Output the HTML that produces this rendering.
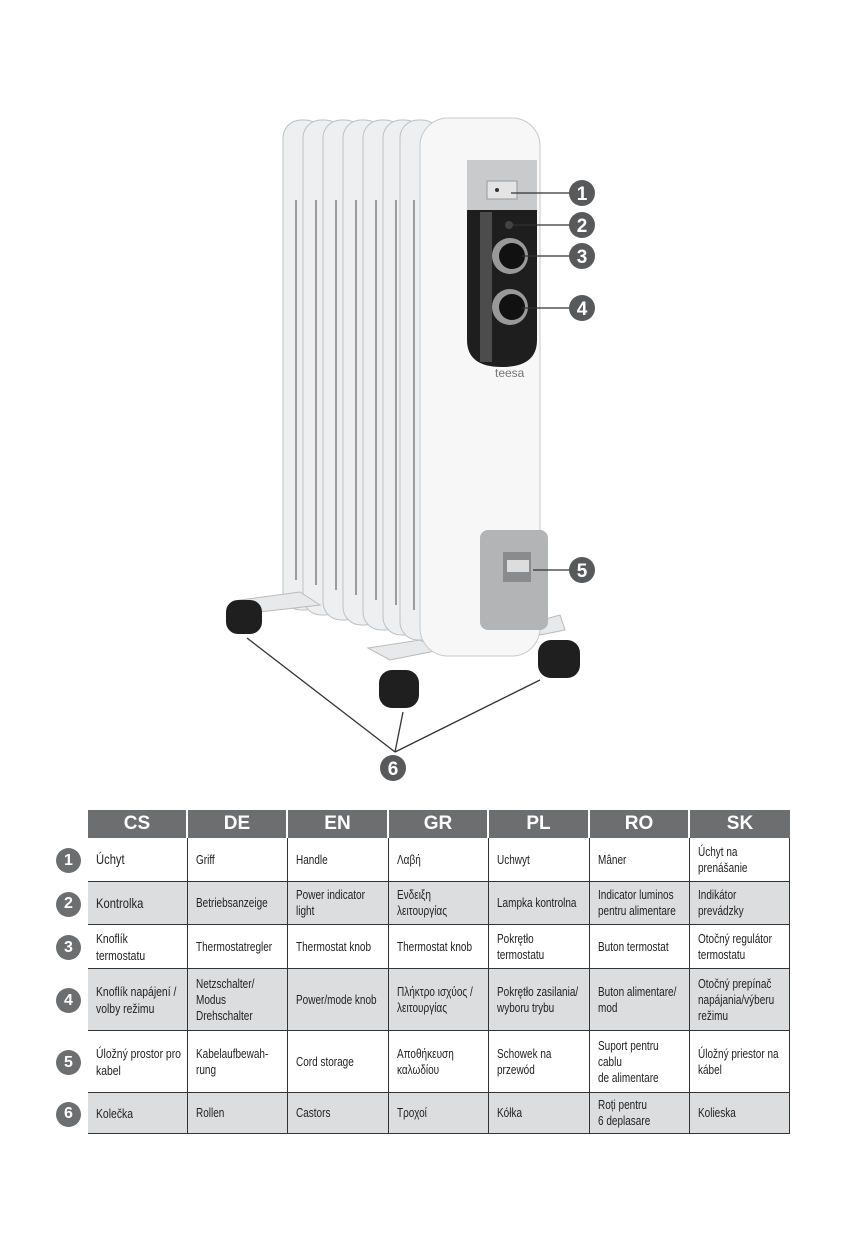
<!DOCTYPE html>
<html><head><meta charset="utf-8"><style>
body{margin:0;width:856px;height:1240px;background:#fff;position:relative;overflow:hidden;font-family:"Liberation Sans",sans-serif;}
.c{position:absolute;border-right:1.5px solid #333;border-bottom:1.5px solid #333;box-sizing:border-box;display:flex;align-items:center;padding-left:8px;font-size:12px;line-height:16px;color:#222;}
.c > div{transform:scaleX(0.8);transform-origin:left center;flex:none;}
.h{position:absolute;background:#6d6e70;color:#fff;font-weight:bold;font-size:19px;display:flex;align-items:center;justify-content:center;box-sizing:border-box;border-right:2px solid #fff;}
.n{position:absolute;width:25px;height:25px;border-radius:50%;background:#6d6e70;color:#fff;font-weight:bold;font-size:16px;display:flex;align-items:center;justify-content:center;}
</style></head><body>
<svg width="856" height="800" style="position:absolute;left:0;top:0">
<g fill="#eeeff0" stroke="#bfc0c2" stroke-width="1">
<rect x="283" y="120" width="40" height="490" rx="18"/>
<rect x="303" y="120" width="40" height="495" rx="18"/>
<rect x="323" y="120" width="40" height="500" rx="18"/>
<rect x="343" y="120" width="40" height="505" rx="18"/>
<rect x="363" y="120" width="40" height="510" rx="18"/>
<rect x="383" y="120" width="40" height="515" rx="18"/>
<rect x="400" y="120" width="40" height="520" rx="18"/>
</g>
<g stroke="#9a9b9d" stroke-width="2">
<line x1="296" y1="200" x2="296" y2="580"/><line x1="316" y1="200" x2="316" y2="585"/><line x1="336" y1="200" x2="336" y2="590"/><line x1="356" y1="200" x2="356" y2="595"/><line x1="376" y1="200" x2="376" y2="600"/><line x1="396" y1="200" x2="396" y2="605"/><line x1="414" y1="200" x2="414" y2="610"/>
</g>
<path d="M240 600 L300 592 L320 605 L260 612 Z" fill="#e8e9ea" stroke="#bbb"/>
<path d="M368 648 L420 640 L440 650 L390 660 Z" fill="#e8e9ea" stroke="#bbb"/>
<path d="M535 622 L560 615 L565 630 L540 635 Z" fill="#e8e9ea" stroke="#bbb"/>
<rect x="420" y="118" width="120" height="538" rx="28" fill="#f7f7f7" stroke="#c8c9cb"/>
<rect x="467" y="160" width="70" height="50" fill="#c9cacc"/>
<rect x="487" y="181" width="30" height="18" fill="#e4e4e4" stroke="#999"/>
<circle cx="497" cy="190" r="2" fill="#333"/>
<path d="M467 210 H537 V340 Q537 367 502 367 Q467 367 467 340 Z" fill="#1e1e1e"/>
<rect x="480" y="212" width="12" height="150" fill="#6a6a6a" opacity=".6"/>
<circle cx="510" cy="256" r="18" fill="#999"/><circle cx="512" cy="256" r="13" fill="#111"/>
<circle cx="510" cy="307" r="18" fill="#999"/><circle cx="512" cy="307" r="13" fill="#111"/>
<circle cx="509" cy="225" r="4" fill="#444"/>
<text x="495" y="377" font-size="12" fill="#777" font-family="Liberation Sans">teesa</text>
<rect x="480" y="530" width="68" height="100" rx="8" fill="#b3b4b6"/>
<rect x="503" y="552" width="28" height="30" fill="#8a8b8d"/>
<rect x="507" y="560" width="22" height="12" fill="#ddd"/>
<rect x="226" y="600" width="36" height="34" rx="12" fill="#1f1f1f"/>
<rect x="379" y="670" width="40" height="38" rx="13" fill="#1f1f1f"/>
<rect x="538" y="640" width="42" height="38" rx="13" fill="#1f1f1f"/>
<g stroke="#333" stroke-width="1.3" fill="none">
<line x1="511" y1="193" x2="570" y2="193"/>
<line x1="513" y1="225" x2="570" y2="225"/>
<line x1="522" y1="256" x2="570" y2="256"/>
<line x1="522" y1="308" x2="570" y2="308"/>
<line x1="533" y1="570" x2="570" y2="570"/>
<line x1="247" y1="638" x2="395" y2="752"/>
<line x1="403" y1="712" x2="395" y2="752"/>
<line x1="540" y1="680" x2="395" y2="752"/>
</g>
<g fill="#58595b"><circle cx="582" cy="193" r="13"/><circle cx="582" cy="225" r="13"/><circle cx="582" cy="256" r="13"/><circle cx="582" cy="308" r="13"/><circle cx="582" cy="570" r="13"/><circle cx="393" cy="768" r="13"/></g>
<g fill="#fff" font-family="Liberation Sans" font-weight="bold" font-size="19" text-anchor="middle">
<text x="582" y="200">1</text><text x="582" y="232">2</text><text x="582" y="263">3</text><text x="582" y="315">4</text><text x="582" y="577">5</text><text x="393" y="775">6</text></g>
</svg>

<div class="h" style="left:88px;top:810px;width:100px;height:28px">CS</div>
<div class="h" style="left:188px;top:810px;width:100px;height:28px">DE</div>
<div class="h" style="left:288px;top:810px;width:101px;height:28px">EN</div>
<div class="h" style="left:389px;top:810px;width:100px;height:28px">GR</div>
<div class="h" style="left:489px;top:810px;width:101px;height:28px">PL</div>
<div class="h" style="left:590px;top:810px;width:100px;height:28px">RO</div>
<div class="h" style="left:690px;top:810px;width:100px;height:28px;border-right:none">SK</div>
<div style="position:absolute;left:88px;top:838px;width:1.5px;height:295px;background:#333"></div>

<div id="t"></div>
<script>
const cols=[88,188,288,389,489,590,690,790];
const rows=[838,882,925,969,1031,1093,1134];
const d=[
["Úchyt","Griff","Handle","Λαβή","Uchwyt","Mâner","Úchyt na<br>prenášanie"],
["Kontrolka","Betriebsanzeige","Power indicator<br>light","Ενδειξη<br>λειτουργίας","Lampka kontrolna","Indicator luminos<br>pentru alimentare","Indikátor<br>prevádzky"],
["Knoflík<br>termostatu","Thermostatregler","Thermostat knob","Thermostat knob","Pokrętło<br>termostatu","Buton termostat","Otočný regulátor<br>termostatu"],
["Knoflík napájení /<br>volby režimu","Netzschalter/<br>Modus<br>Drehschalter","Power/mode knob","Πλήκτρο ισχύος /<br>λειτουργίας","Pokrętło zasilania/<br>wyboru trybu","Buton alimentare/<br>mod","Otočný prepínač<br>napájania/výberu<br>režimu"],
["Úložný prostor pro<br>kabel","Kabelaufbewah-<br>rung","Cord storage","Αποθήκευση<br>καλωδίου","Schowek na<br>przewód","Suport pentru<br>cablu<br>de alimentare","Úložný priestor na<br>kábel"],
["Kolečka","Rollen","Castors","Τροχοί","Kółka","Roți pentru<br>6 deplasare","Kolieska"]];
let h="";
for(let r=0;r<6;r++){
 h+=`<div class="n" style="left:56px;top:${(rows[r]+rows[r+1])/2-12}px">${r+1}</div>`;
 for(let c=0;c<7;c++){
  const fs=c==0?(r==0||r==1?14:13):12.5;
  h+=`<div class="c" style="left:${cols[c]}px;top:${rows[r]}px;width:${cols[c+1]-cols[c]}px;height:${rows[r+1]-rows[r]}px;background:${r%2?'#dcdddf':'#fff'};font-size:${fs}px;line-height:${c==0?17:16}px"><div style="white-space:nowrap">${d[r][c]}</div></div>`;
 }
}
document.getElementById("t").innerHTML=h;
</script>
</body></html>
